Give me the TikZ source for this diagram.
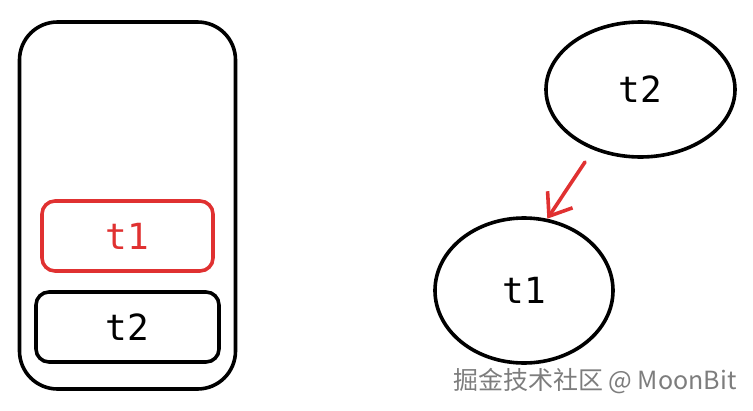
\documentclass[tikz,border=0pt]{standalone}
\usepackage{fontspec}
\setmonofont{DejaVu Sans Mono}
\newfontfamily\cjk{Noto Sans CJK SC}
\usetikzlibrary{positioning, shapes.geometric, arrows.meta}

\definecolor{sketchred}{RGB}{224,49,49}
\definecolor{markgray}{RGB}{125,125,125}

\tikzset{
	sketch/.style={line width=3.6pt, line join=round, line cap=round},
	txt/.style={font=\ttfamily\fontsize{36}{36}\selectfont},
	block/.style={sketch, draw, rounded corners=13pt},
	blob/.style={sketch, draw, ellipse, inner sep=0pt},
}

\begin{document}
\begin{tikzpicture}[x=1pt, y=-1pt]
	\useasboundingbox (0,0) rectangle (753,410);
	
	% stack on the left
	\node[block, rounded corners=38pt, minimum width=216pt, minimum height=367pt] (stack) at (127.5,205.5) {};
	\node[block, sketchred, minimum width=171pt, minimum height=70pt] (s1) at (127.5,236) {};
	\node[block, minimum width=183pt, minimum height=70pt] (s2) at (127.5,327) {};
	\node[txt, text=sketchred] (s1t) at (s1.center) {t1};
	\node[txt] (s2t) at (s2.center) {t2};
	
	% tree on the right
	\node[blob, minimum width=189pt, minimum height=135pt] (e2) at (640.5,89.5) {};
	\node[blob, minimum width=178pt, minimum height=145pt] (e1) at (524,290.5) {};
	\node[txt] (e2t) at (e2.center) {t2};
	\node[txt] (e1t) at (e1.center) {t1};
	
	\coordinate (a0) at (585,162);
	\draw[sketch, sketchred, -{Straight Barb[length=20pt, width=30pt, line width=3.6pt]}] (a0) -- (e1.72);
	
	% watermark
	\node[anchor=east, text=markgray, font=\cjk\fontsize{25}{25}\selectfont] (mark) at (740,381) {掘金技术社区 @ MoonBit};
\end{tikzpicture}
\end{document}
